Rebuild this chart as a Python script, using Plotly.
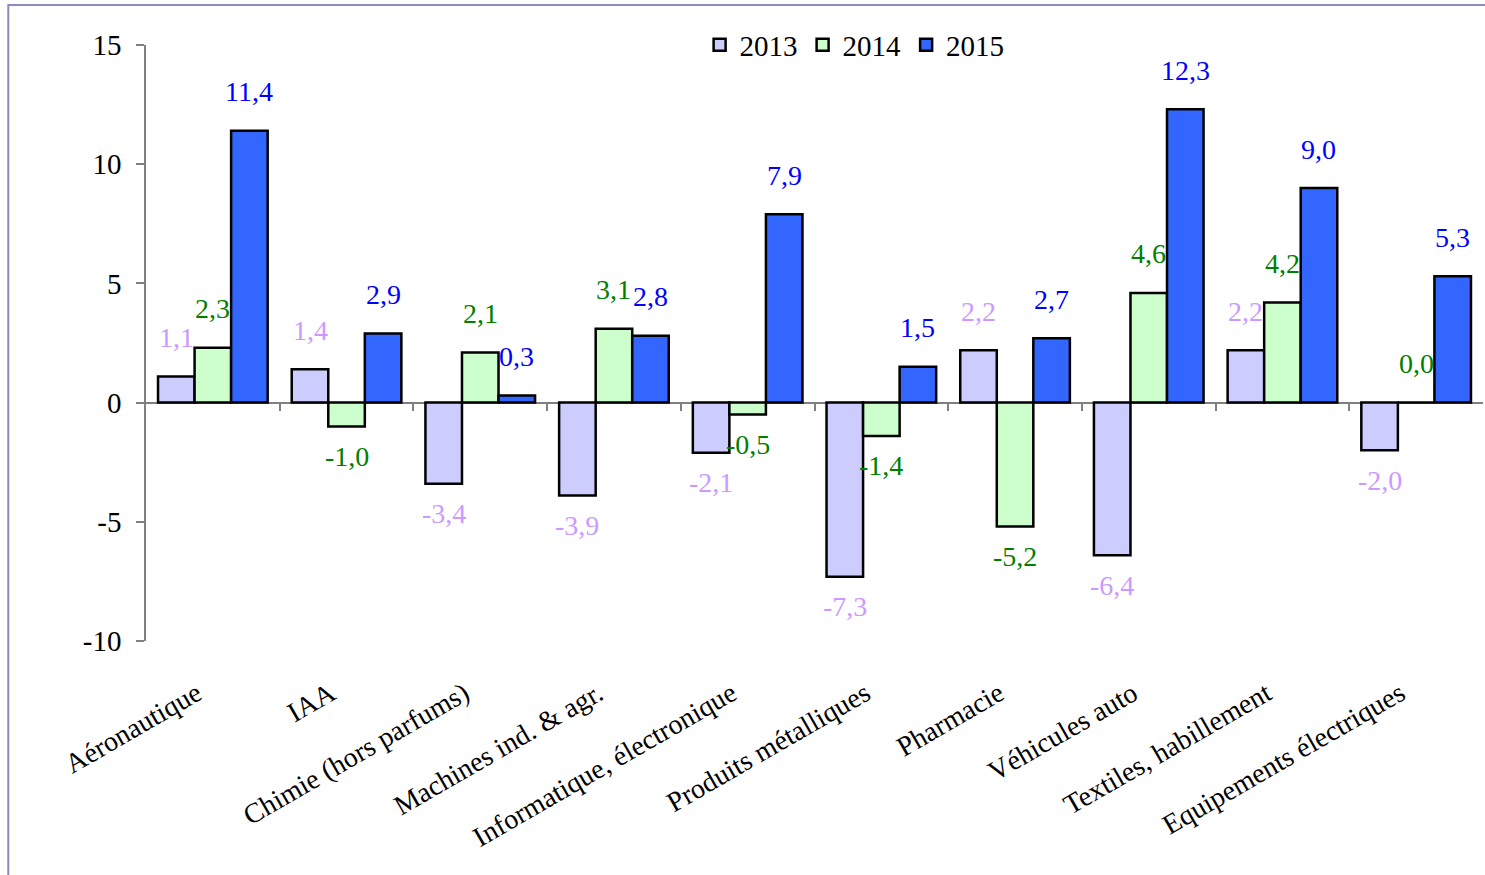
import plotly.graph_objects as go

categories = ["Aéronautique", "IAA", "Chimie (hors parfums)", "Machines ind. & agr.",
              "Informatique, électronique", "Produits métalliques", "Pharmacie",
              "Véhicules auto", "Textiles, habillement", "Equipements électriques"]
v2013 = [1.1, 1.4, -3.4, -3.9, -2.1, -7.3, 2.2, -6.4, 2.2, -2.0]
v2014 = [2.3, -1.0, 2.1, 3.1, -0.5, -1.4, -5.2, 4.6, 4.2, 0.0]
v2015 = [11.4, 2.9, 0.3, 2.8, 7.9, 1.5, 2.7, 12.3, 9.0, 5.3]
series_names = ["2013", "2014", "2015"]
fill_colors = ["#ccccff", "#ccffcc", "#3366ff"]
label_colors = ["#cc99ff", "#008000", "#0000ff"]
y_ticks = [-10, -5, 0, 5, 10, 15]

FONT = "Liberation Serif"
bargap = 0.18
bw = (1 - bargap) / 3

fig = go.Figure()
annotations = []
for j, (name, vals) in enumerate(zip(series_names, [v2013, v2014, v2015])):
    fig.add_trace(go.Bar(
        x=categories, y=vals, name=name,
        marker=dict(color=fill_colors[j], line=dict(color="black", width=2.5)),
    ))
    for i, v in enumerate(vals):
        annotations.append(dict(
            x=i + (j - 1) * bw, y=v, xref="x", yref="y",
            text=f"{v:.1f}".replace(".", ","), showarrow=False,
            font=dict(family=FONT, size=28, color=label_colors[j]),
            yshift=39 if v >= 0 else -30,
        ))

# boundary ticks along the zero line
fig.add_trace(go.Scatter(x=[None], y=[None], xaxis="x2", showlegend=False))

fig.update_layout(
    width=1485, height=875,
    margin=dict(l=146, r=2, t=45, b=234),
    paper_bgcolor="white", plot_bgcolor="white",
    barmode="group", bargap=bargap, bargroupgap=0,
    font=dict(family=FONT, size=28, color="black"),
    legend=dict(orientation="h", x=0.53, xanchor="center", y=1.0, yanchor="middle",
                font=dict(family=FONT, size=29), itemwidth=30, tracegroupgap=0,
                bgcolor="rgba(0,0,0,0)"),
    xaxis=dict(type="category", tickangle=-30, showline=False, ticks="",
               showgrid=False, zeroline=False, tickfont=dict(family=FONT, size=28),
               range=[-0.5, 9.5], ticklabelstandoff=30, ticklabelshift=-16),
    xaxis2=dict(overlaying="x", anchor="free", position=0.4, range=[-0.5, 9.5],
                tickmode="array", tickvals=[i + 0.5 for i in range(9)],
                ticks="outside", ticklen=7, tickcolor="#808080", tickwidth=1.5,
                showticklabels=False, showline=False, showgrid=False, zeroline=False),
    yaxis=dict(range=[-10, 15], tickvals=y_ticks, ticktext=[str(t) for t in y_ticks],
               ticks="outside", ticklen=8, tickcolor="#808080", tickwidth=1.5,
               showline=True, linecolor="#808080", linewidth=1.5,
               showgrid=False, zeroline=True, zerolinecolor="#808080", zerolinewidth=1.5,
               ticklabelstandoff=9, tickfont=dict(family=FONT, size=29)),
    annotations=annotations,
    shapes=[dict(type="rect", xref="paper", yref="paper",
                 x0=-0.103, x1=1.05, y0=-0.6, y1=1.067,
                 line=dict(color="#8c8cc0", width=2), layer="below")],
)

fig.write_html("out.html", config={"displayModeBar": False},
               post_script="document.body.style.margin='0px';")
